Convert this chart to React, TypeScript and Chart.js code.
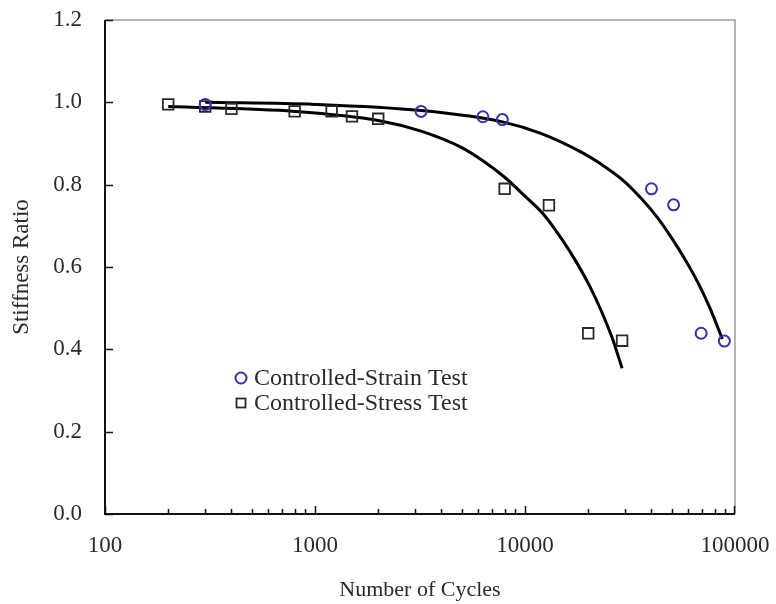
import React, { useEffect, useRef } from 'react';
import { Chart, registerables } from 'chart.js';

Chart.register(...registerables);

// Axis ticks
const xMajorTicks = [100, 1000, 10000, 100000];
const yMajorTicks = [0, 0.2, 0.4, 0.6, 0.8, 1.0, 1.2];

// Controlled-Strain Test (circles)
const strainCycles = [300, 3200, 6300, 7800, 40000, 51000, 69000, 89000];
const strainRatio = [0.995, 0.978, 0.965, 0.958, 0.79, 0.751, 0.439, 0.42];

// Controlled-Stress Test (squares)
const stressCycles = [200, 300, 400, 800, 1200, 1500, 2000, 8000, 13000, 20000, 29000];
const stressRatio = [0.995, 0.99, 0.984, 0.978, 0.978, 0.966, 0.96, 0.79, 0.75, 0.439, 0.421];

// Fitted curves
const strainFitCycles = [300, 1000, 3200, 7900, 11800, 19000, 23000, 29400, 36000, 43000, 50000, 58000, 66600, 76000, 87000];
const strainFitRatio = [1.0, 0.995, 0.98, 0.952, 0.925, 0.876, 0.85, 0.81, 0.765, 0.718, 0.67, 0.617, 0.562, 0.5, 0.425];

const stressFitCycles = [200, 800, 2000, 3200, 5000, 6300, 8000, 10000, 12300, 15000, 17800, 20500, 23000, 26000, 29000];
const stressFitRatio = [0.99, 0.978, 0.956, 0.93, 0.89, 0.858, 0.818, 0.772, 0.727, 0.667, 0.607, 0.55, 0.495, 0.428, 0.354];

const legendLabels = ['Controlled-Strain Test', 'Controlled-Stress Test'];

const SERIF = '"Liberation Serif", "Times New Roman", serif';
const BLUE = '#3434a8';
const DARK = '#2a2a2a';

const toPoints = (xs: number[], ys: number[]) => xs.map((x, i) => ({ x, y: ys[i] }));

const framePlugin = {
  id: 'frame',
  afterDraw(chart: any) {
    const { ctx, chartArea: a, scales } = chart;
    const xs = scales.x;
    const ys = scales.y;
    ctx.save();
    // light top / right frame
    ctx.strokeStyle = '#9a9a9a';
    ctx.lineWidth = 1.5;
    ctx.beginPath();
    ctx.moveTo(a.left, a.top);
    ctx.lineTo(a.right, a.top);
    ctx.lineTo(a.right, a.bottom);
    ctx.stroke();
    // black axes
    ctx.strokeStyle = '#111';
    ctx.lineWidth = 2;
    ctx.beginPath();
    ctx.moveTo(a.left, a.top);
    ctx.lineTo(a.left, a.bottom);
    ctx.lineTo(a.right, a.bottom);
    ctx.stroke();
    // y ticks (inward)
    ctx.lineWidth = 1.5;
    ctx.beginPath();
    yMajorTicks.forEach((v) => {
      const py = Math.round(ys.getPixelForValue(v)) + 0.5;
      ctx.moveTo(a.left, py);
      ctx.lineTo(a.left + 8, py);
    });
    // x ticks (inward): majors and minors
    for (let d = 0; d < xMajorTicks.length - 1; d++) {
      const base = xMajorTicks[d];
      for (let k = 1; k <= 9; k++) {
        const v = base * k;
        const px = Math.round(xs.getPixelForValue(v)) + 0.5;
        const len = k === 1 ? 8 : 5;
        ctx.moveTo(px, a.bottom);
        ctx.lineTo(px, a.bottom - len);
      }
    }
    const pxEnd = Math.round(xs.getPixelForValue(xMajorTicks[xMajorTicks.length - 1])) - 0.5;
    ctx.moveTo(pxEnd, a.bottom);
    ctx.lineTo(pxEnd, a.bottom - 8);
    ctx.stroke();

    // legend inside plot
    const lx = a.left + 136;
    const ly = a.top + 358;
    const rowH = 25;
    ctx.font = `24px ${SERIF}`;
    ctx.textBaseline = 'middle';
    ctx.textAlign = 'left';
    ctx.strokeStyle = BLUE;
    ctx.lineWidth = 2;
    ctx.beginPath();
    ctx.arc(lx, ly, 5.5, 0, Math.PI * 2);
    ctx.stroke();
    ctx.fillStyle = DARK;
    ctx.fillText(legendLabels[0], lx + 13, ly + 1);
    ctx.strokeStyle = DARK;
    ctx.lineWidth = 1.8;
    ctx.strokeRect(lx - 4.5, ly + rowH - 4.5, 9, 9);
    ctx.fillText(legendLabels[1], lx + 13, ly + rowH + 1);
    ctx.restore();
  },
};

export default function App() {
  const canvasRef = useRef<HTMLCanvasElement | null>(null);

  useEffect(() => {
    if (!canvasRef.current) return;
    const chart = new Chart(canvasRef.current, {
      type: 'scatter',
      data: {
        datasets: [
          {
            label: legendLabels[0],
            data: toPoints(strainCycles, strainRatio),
            pointStyle: 'circle',
            pointRadius: 5.5,
            pointBorderWidth: 2,
            pointBorderColor: BLUE,
            pointBackgroundColor: 'rgba(0,0,0,0)',
            showLine: false,
          },
          {
            label: legendLabels[1],
            data: toPoints(stressCycles, stressRatio),
            pointStyle: 'rect',
            pointRadius: 7.5,
            pointBorderWidth: 1.8,
            pointBorderColor: DARK,
            pointBackgroundColor: 'rgba(0,0,0,0)',
            showLine: false,
          },
          {
            label: 'strain fit',
            data: toPoints(strainFitCycles, strainFitRatio),
            showLine: true,
            pointRadius: 0,
            borderColor: '#000',
            borderWidth: 3,
            cubicInterpolationMode: 'monotone',
            fill: false,
          },
          {
            label: 'stress fit',
            data: toPoints(stressFitCycles, stressFitRatio),
            showLine: true,
            pointRadius: 0,
            borderColor: '#000',
            borderWidth: 3,
            cubicInterpolationMode: 'monotone',
            fill: false,
          },
        ],
      },
      options: {
        responsive: false,
        animation: false,
        devicePixelRatio: 1,
        layout: { padding: { left: 0, top: 20, right: 41, bottom: 0 } },
        plugins: {
          legend: { display: false },
          tooltip: { enabled: false },
        },
        scales: {
          x: {
            type: 'logarithmic',
            min: 100,
            max: 100000,
            grid: { display: false, drawTicks: false },
            border: { display: false },
            afterBuildTicks: (scale: any) => {
              scale.ticks = xMajorTicks.map((v) => ({ value: v }));
            },
            afterFit: (scale: any) => {
              scale.height = 90;
              scale.paddingLeft = 0;
              scale.paddingRight = 0;
            },
            ticks: {
              autoSkip: false,
              maxRotation: 0,
              padding: 18,
              color: DARK,
              font: { family: SERIF, size: 23 },
              callback: (v: any) => String(v),
            },
            title: {
              display: true,
              text: 'Number of Cycles',
              color: DARK,
              font: { family: SERIF, size: 22 },
              padding: { top: 0, bottom: 1 },
            },
          },
          y: {
            type: 'linear',
            min: 0,
            max: 1.2,
            grid: { display: false, drawTicks: false },
            border: { display: false },
            afterBuildTicks: (scale: any) => {
              scale.ticks = yMajorTicks.map((v) => ({ value: v }));
            },
            afterFit: (scale: any) => {
              scale.width = 105;
              scale.paddingTop = 0;
              scale.paddingBottom = 0;
            },
            ticks: {
              padding: 23,
              color: DARK,
              font: { family: SERIF, size: 23 },
              callback: (v: any) => Number(v).toFixed(1),
            },
            title: {
              display: true,
              text: 'Stiffness Ratio',
              color: DARK,
              font: { family: SERIF, size: 23 },
              padding: { top: 8, bottom: 0 },
            },
          },
        },
      },
      plugins: [framePlugin],
    } as any);
    return () => chart.destroy();
  }, []);

  return (
    <div style={{ position: 'absolute', left: 0, top: 0, width: 776, height: 604, background: '#fff' }}>
      <canvas ref={canvasRef} width={776} height={604} style={{ display: 'block' }} />
    </div>
  );
}
